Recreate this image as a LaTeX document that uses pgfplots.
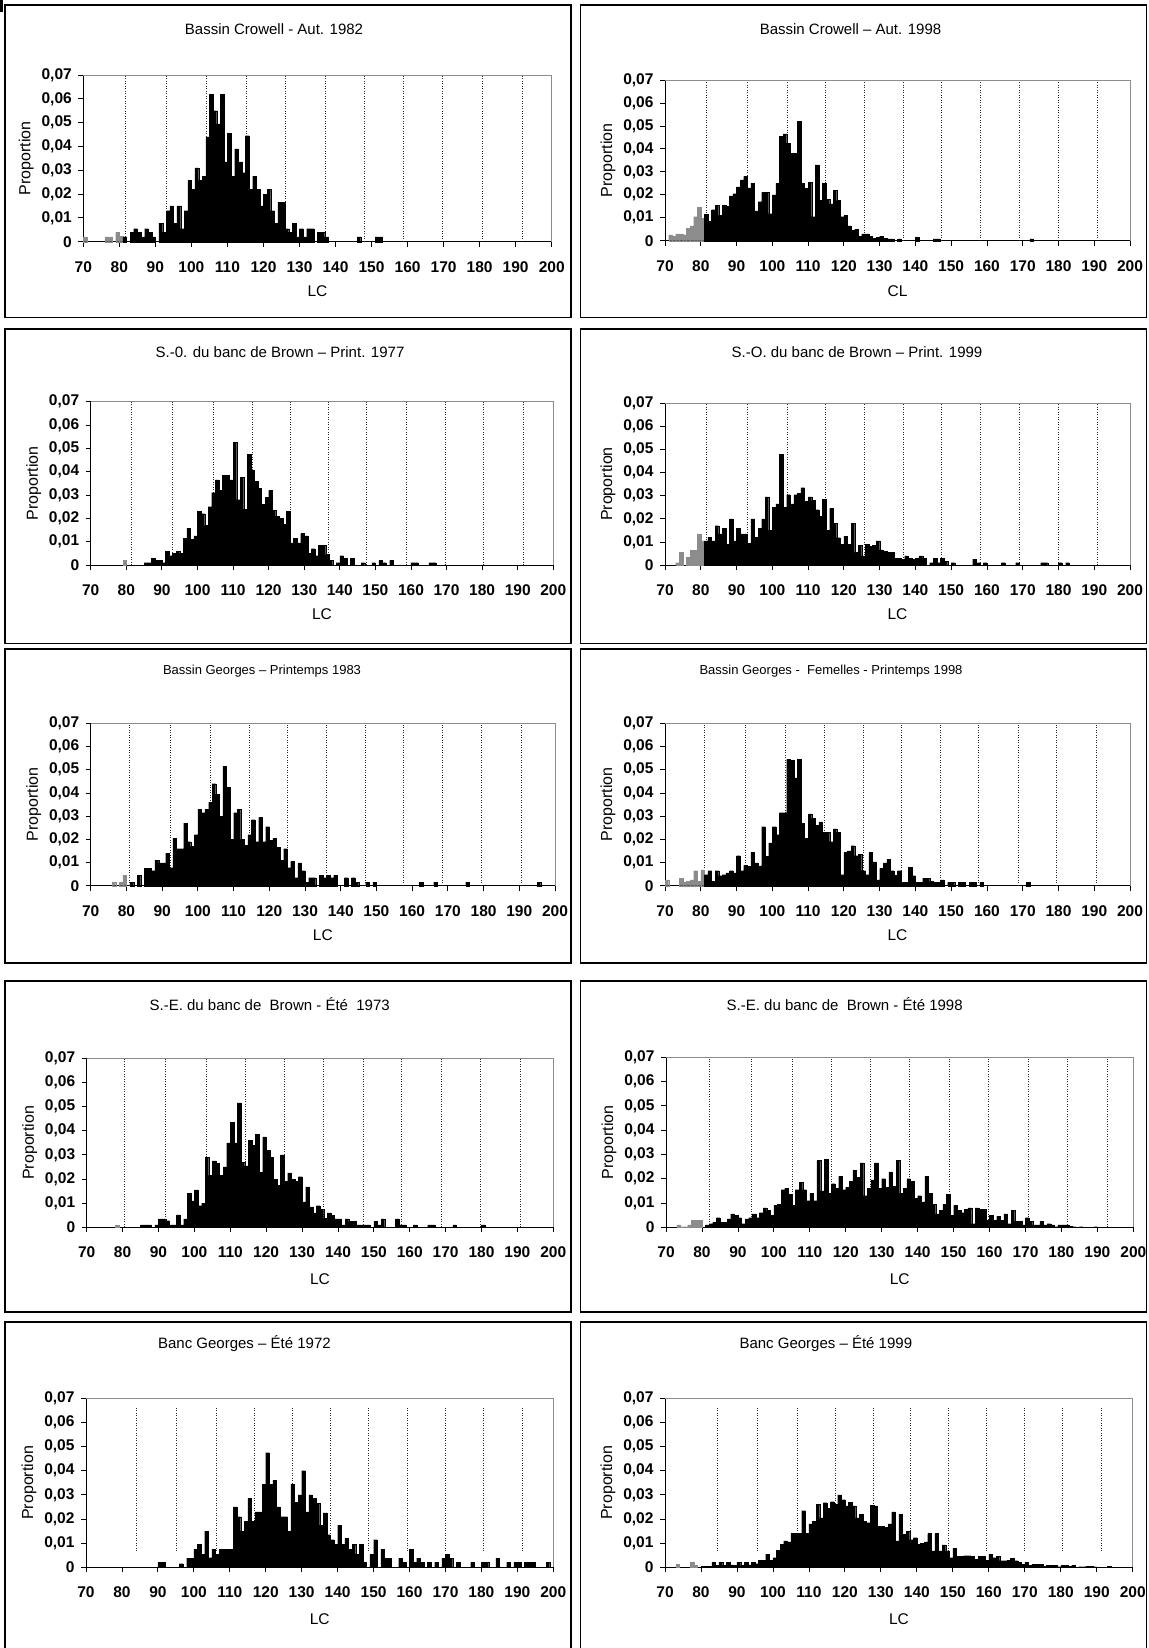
\documentclass[border=0pt]{standalone}
\usepackage{fontspec}
\setmainfont{Liberation Sans}
\usepackage{pgfplots}
\usepackage{pgfplotstable}
\pgfplotsset{compat=1.18}

% ---------- Panel 1: Bassin Crowell - Aut. 1982
\pgfplotstableread[row sep=\\]{lc p\\ 70 0.002\\ 76 0.002\\ 77 0.002\\ 79 0.0039\\ 80 0.0022\\}\PaG
\pgfplotstableread[row sep=\\]{lc p\\
81 0.002\\ 83 0.004\\ 84 0.0055\\ 85 0.004\\ 86 0.002\\ 87 0.0055\\ 88 0.004\\ 89 0.002\\
91 0.0078\\ 92 0.004\\ 93 0.013\\ 94 0.015\\ 95 0.0078\\ 96 0.015\\ 97 0.0055\\ 98 0.013\\ 99 0.0258\\ 100 0.022\\
101 0.031\\ 102 0.0258\\ 103 0.0275\\ 104 0.044\\ 105 0.062\\ 106 0.055\\ 107 0.0495\\ 108 0.062\\ 109 0.0335\\ 110 0.0455\\
111 0.0275\\ 112 0.039\\ 113 0.0335\\ 114 0.029\\ 115 0.0445\\ 116 0.022\\ 117 0.0275\\ 118 0.022\\ 119 0.015\\ 120 0.020\\
121 0.022\\ 122 0.013\\ 123 0.0078\\ 124 0.0165\\ 125 0.0165\\ 126 0.0055\\ 127 0.004\\ 128 0.0078\\ 129 0.002\\ 130 0.0055\\
131 0.002\\ 132 0.0055\\ 133 0.0055\\ 135 0.004\\ 136 0.004\\ 137 0.002\\ 146 0.002\\ 151 0.002\\ 152 0.002\\}\PaB

% ---------- Panel 2: Bassin Crowell - Aut. 1998
\pgfplotstableread[row sep=\\]{lc p\\ 71 0.0025\\ 72 0.002\\ 73 0.003\\ 74 0.003\\ 75 0.0025\\ 76 0.0055\\ 77 0.0065\\ 78 0.0105\\ 79 0.0145\\ 80 0.0098\\}\PbG
\pgfplotstableread[row sep=\\]{lc p\\
81 0.0115\\ 82 0.0085\\ 83 0.0135\\ 84 0.0155\\ 85 0.011\\ 86 0.0155\\ 87 0.015\\ 88 0.0195\\ 89 0.0205\\ 90 0.0235\\
91 0.0265\\ 92 0.028\\ 93 0.023\\ 94 0.025\\ 95 0.013\\ 96 0.017\\ 97 0.021\\ 98 0.021\\ 99 0.0118\\ 100 0.020\\
101 0.025\\ 102 0.0455\\ 103 0.0465\\ 104 0.0425\\ 105 0.038\\ 106 0.038\\ 107 0.052\\ 108 0.025\\ 109 0.0228\\ 110 0.0255\\
111 0.0105\\ 112 0.033\\ 113 0.0175\\ 114 0.025\\ 115 0.018\\ 116 0.016\\ 117 0.022\\ 118 0.0175\\ 119 0.0105\\ 120 0.011\\
121 0.0065\\ 122 0.0045\\ 123 0.005\\ 124 0.002\\ 125 0.003\\ 126 0.003\\ 127 0.002\\ 128 0.001\\ 129 0.0015\\ 130 0.002\\
131 0.001\\ 132 0.0008\\ 133 0.0008\\ 135 0.0008\\ 140 0.0015\\ 145 0.0008\\ 146 0.0008\\ 172 0.0008\\}\PbB

% ---------- Panel 3: S.-O. Brown 1977
\pgfplotstableread[row sep=\\]{lc p\\ 79 0.002\\}\PcG
\pgfplotstableread[row sep=\\]{lc p\\
85 0.001\\ 86 0.001\\ 87 0.003\\ 88 0.002\\ 89 0.002\\ 90 0.001\\
91 0.006\\ 92 0.004\\ 93 0.005\\ 94 0.006\\ 95 0.005\\ 96 0.0115\\ 97 0.0158\\ 98 0.011\\ 99 0.0125\\ 100 0.023\\
101 0.022\\ 102 0.017\\ 103 0.025\\ 104 0.031\\ 105 0.0365\\ 106 0.032\\ 107 0.0385\\ 108 0.0385\\ 109 0.0365\\ 110 0.0525\\
111 0.028\\ 112 0.0375\\ 113 0.024\\ 114 0.0475\\ 115 0.0405\\ 116 0.036\\ 117 0.033\\ 118 0.026\\ 119 0.029\\ 120 0.032\\
121 0.0235\\ 122 0.021\\ 123 0.020\\ 124 0.0175\\ 125 0.023\\ 126 0.0095\\ 127 0.0115\\ 128 0.0095\\ 129 0.0135\\ 130 0.0125\\
131 0.005\\ 132 0.007\\ 133 0.004\\ 134 0.0085\\ 135 0.0085\\ 136 0.0045\\ 137 0.002\\ 139 0.001\\ 140 0.004\\
141 0.003\\ 143 0.003\\ 146 0.001\\ 149 0.001\\ 151 0.002\\ 152 0.001\\ 154 0.002\\ 160 0.001\\ 161 0.001\\ 165 0.001\\ 166 0.001\\}\PcB

% ---------- Panel 4: S.-O. Brown 1999
\pgfplotstableread[row sep=\\]{lc p\\ 73 0.001\\ 74 0.0055\\ 76 0.0033\\ 77 0.0063\\ 78 0.0063\\ 79 0.0135\\ 80 0.0105\\}\PdG
\pgfplotstableread[row sep=\\]{lc p\\
81 0.0105\\ 82 0.012\\ 83 0.0105\\ 84 0.017\\ 85 0.0135\\ 86 0.016\\ 87 0.009\\ 88 0.020\\ 89 0.0105\\ 90 0.016\\
91 0.0135\\ 92 0.0135\\ 93 0.0095\\ 94 0.020\\ 95 0.012\\ 96 0.016\\ 97 0.020\\ 98 0.0295\\ 99 0.015\\ 100 0.025\\
101 0.0265\\ 102 0.048\\ 103 0.025\\ 104 0.0305\\ 105 0.0265\\ 106 0.0305\\ 107 0.031\\ 108 0.0335\\ 109 0.0275\\ 110 0.0295\\
111 0.028\\ 112 0.024\\ 113 0.021\\ 114 0.0285\\ 115 0.015\\ 116 0.0245\\ 117 0.018\\ 118 0.0118\\ 119 0.009\\ 120 0.0125\\
121 0.009\\ 122 0.018\\ 123 0.0055\\ 124 0.0085\\ 125 0.004\\ 126 0.009\\ 127 0.008\\ 128 0.0085\\ 129 0.0105\\ 130 0.0065\\
131 0.006\\ 132 0.0055\\ 133 0.0055\\ 134 0.003\\ 135 0.003\\ 136 0.0025\\ 137 0.004\\ 138 0.003\\ 139 0.0025\\ 140 0.003\\
141 0.004\\ 142 0.003\\ 144 0.001\\ 145 0.003\\ 146 0.001\\ 147 0.003\\ 148 0.0015\\ 150 0.001\\ 156 0.0025\\ 157 0.001\\
159 0.001\\ 164 0.001\\ 168 0.001\\ 175 0.001\\ 176 0.001\\ 180 0.001\\ 182 0.001\\}\PdB

% ---------- Panel 5: Bassin Georges 1983
\pgfplotstableread[row sep=\\]{lc p\\ 76 0.0015\\ 78 0.0015\\ 79 0.0045\\}\PeG
\pgfplotstableread[row sep=\\]{lc p\\
81 0.0015\\ 83 0.0045\\ 85 0.0075\\ 86 0.0075\\ 87 0.0065\\ 88 0.011\\ 89 0.0098\\ 90 0.0098\\
91 0.014\\ 92 0.0078\\ 93 0.0205\\ 94 0.016\\ 95 0.016\\ 96 0.027\\ 97 0.019\\ 98 0.017\\ 99 0.022\\ 100 0.033\\
101 0.0315\\ 102 0.033\\ 103 0.036\\ 104 0.044\\ 105 0.0395\\ 106 0.030\\ 107 0.0515\\ 108 0.0425\\ 109 0.020\\ 110 0.0315\\
111 0.033\\ 112 0.020\\ 113 0.0175\\ 114 0.022\\ 115 0.0285\\ 116 0.019\\ 117 0.0295\\ 118 0.019\\ 119 0.0255\\ 120 0.0195\\
121 0.0205\\ 122 0.0165\\ 123 0.011\\ 124 0.016\\ 125 0.0078\\ 126 0.0105\\ 127 0.0035\\ 128 0.0098\\ 129 0.0065\\ 130 0.0015\\
131 0.0035\\ 132 0.0035\\ 134 0.0045\\ 135 0.0035\\ 136 0.0045\\ 137 0.0035\\ 138 0.0045\\ 141 0.0035\\ 143 0.0035\\ 144 0.0015\\
147 0.0015\\ 149 0.0015\\ 162 0.0015\\ 166 0.0015\\ 175 0.0015\\ 195 0.0015\\}\PeB

% ---------- Panel 6: Bassin Georges Femelles 1998
\pgfplotstableread[row sep=\\]{lc p\\ 70 0.0025\\ 74 0.0033\\ 75 0.0015\\ 76 0.0018\\ 77 0.0025\\ 78 0.0065\\ 79 0.0018\\ 80 0.0068\\}\PfG
\pgfplotstableread[row sep=\\]{lc p\\
81 0.0048\\ 82 0.0065\\ 83 0.002\\ 84 0.0065\\ 85 0.0043\\ 86 0.0048\\ 87 0.0055\\ 88 0.0065\\ 89 0.0055\\ 90 0.013\\
91 0.0065\\ 92 0.0088\\ 93 0.0083\\ 94 0.0145\\ 95 0.0098\\ 96 0.0085\\ 97 0.0255\\ 98 0.0128\\ 99 0.0185\\ 100 0.0255\\
101 0.022\\ 102 0.0315\\ 103 0.0315\\ 104 0.0545\\ 105 0.054\\ 106 0.0465\\ 107 0.0545\\ 108 0.027\\ 109 0.0205\\ 110 0.031\\
111 0.029\\ 112 0.026\\ 113 0.0275\\ 114 0.023\\ 115 0.023\\ 116 0.019\\ 117 0.0245\\ 118 0.023\\ 119 0.0048\\ 120 0.0145\\
121 0.015\\ 122 0.0173\\ 123 0.013\\ 124 0.0135\\ 125 0.0065\\ 126 0.0048\\ 127 0.0143\\ 128 0.0103\\ 129 0.0025\\ 130 0.0075\\
131 0.0098\\ 132 0.0115\\ 133 0.0065\\ 134 0.0045\\ 135 0.0065\\ 136 0.0015\\ 137 0.0015\\ 138 0.008\\ 139 0.0043\\ 140 0.0015\\
141 0.0015\\ 142 0.0033\\ 143 0.0033\\ 144 0.0018\\ 145 0.0015\\ 146 0.0015\\ 147 0.0025\\ 149 0.0015\\ 150 0.0015\\ 152 0.0015\\
153 0.0015\\ 155 0.0015\\ 156 0.0015\\ 158 0.0015\\ 171 0.0015\\}\PfB

% ---------- Panel 7: S.-E. Brown 1973
\pgfplotstableread[row sep=\\]{lc p\\ 78 0.001\\}\PgG
\pgfplotstableread[row sep=\\]{lc p\\
85 0.001\\ 86 0.001\\ 87 0.001\\ 89 0.001\\ 90 0.0035\\ 91 0.0035\\ 92 0.0028\\ 93 0.001\\ 94 0.001\\ 95 0.0052\\
96 0.001\\ 97 0.0035\\ 98 0.014\\ 99 0.011\\ 100 0.0155\\ 101 0.009\\ 102 0.010\\ 103 0.029\\ 104 0.0215\\ 105 0.0275\\
106 0.0265\\ 107 0.0215\\ 108 0.025\\ 109 0.035\\ 110 0.0435\\ 111 0.035\\ 112 0.0515\\ 113 0.027\\ 114 0.0255\\ 115 0.036\\
116 0.034\\ 117 0.0385\\ 118 0.0228\\ 119 0.0375\\ 120 0.032\\ 121 0.029\\ 122 0.020\\ 123 0.0175\\ 124 0.030\\ 125 0.019\\
126 0.0225\\ 127 0.020\\ 128 0.019\\ 129 0.021\\ 130 0.0105\\ 131 0.0168\\ 132 0.0085\\ 133 0.006\\ 134 0.009\\ 135 0.0075\\
136 0.0038\\ 137 0.006\\ 138 0.005\\ 139 0.0035\\ 140 0.0035\\ 141 0.001\\ 142 0.0035\\ 143 0.0025\\ 144 0.0025\\ 145 0.001\\
146 0.001\\ 147 0.001\\ 148 0.001\\ 150 0.0025\\ 151 0.001\\ 152 0.0035\\ 156 0.0035\\ 157 0.001\\ 158 0.001\\ 161 0.001\\
165 0.001\\ 166 0.001\\ 172 0.001\\ 180 0.001\\}\PgB

% ---------- Panel 8: S.-E. Brown 1998
\pgfplotstableread[row sep=\\]{lc p\\ 73 0.001\\ 74 0.0003\\ 75 0.0003\\ 76 0.001\\ 77 0.003\\ 78 0.0028\\ 79 0.003\\}\PhG
\pgfplotstableread[row sep=\\]{lc p\\
81 0.001\\ 82 0.0015\\ 83 0.002\\ 84 0.004\\ 85 0.002\\ 86 0.002\\ 87 0.0035\\ 88 0.0055\\ 89 0.005\\ 90 0.004\\
91 0.0015\\ 92 0.0035\\ 93 0.004\\ 94 0.0055\\ 95 0.004\\ 96 0.006\\ 97 0.008\\ 98 0.007\\ 99 0.005\\ 100 0.009\\
101 0.0095\\ 102 0.0155\\ 103 0.016\\ 104 0.0135\\ 105 0.009\\ 106 0.0155\\ 107 0.0185\\ 108 0.0155\\ 109 0.011\\ 110 0.014\\
111 0.011\\ 112 0.0275\\ 113 0.015\\ 114 0.028\\ 115 0.014\\ 116 0.018\\ 117 0.016\\ 118 0.021\\ 119 0.0155\\ 120 0.0165\\
121 0.019\\ 122 0.0235\\ 123 0.0205\\ 124 0.0265\\ 125 0.013\\ 126 0.016\\ 127 0.0195\\ 128 0.0265\\ 129 0.016\\ 130 0.020\\
131 0.0165\\ 132 0.0228\\ 133 0.0168\\ 134 0.0275\\ 135 0.014\\ 136 0.016\\ 137 0.020\\ 138 0.019\\ 139 0.012\\ 140 0.013\\
141 0.0105\\ 142 0.021\\ 143 0.014\\ 144 0.0095\\ 145 0.0055\\ 146 0.007\\ 147 0.0095\\ 148 0.0135\\ 149 0.005\\ 150 0.009\\
151 0.007\\ 152 0.006\\ 153 0.0075\\ 154 0.008\\ 155 0.0015\\ 156 0.008\\ 157 0.0075\\ 158 0.0075\\ 159 0.0028\\ 160 0.005\\
161 0.003\\ 162 0.0045\\ 163 0.003\\ 164 0.0055\\ 165 0.0015\\ 166 0.007\\ 167 0.0025\\ 168 0.0025\\ 169 0.001\\ 170 0.004\\
171 0.0025\\ 172 0.001\\ 173 0.001\\ 174 0.0025\\ 175 0.001\\ 176 0.0015\\ 177 0.001\\ 178 0.0003\\ 179 0.001\\ 180 0.001\\
181 0.001\\ 182 0.0005\\ 183 0.0003\\ 185 0.0003\\ 189 0.0003\\}\PhB

% ---------- Panel 9: Banc Georges 1972
\pgfplotstableread[row sep=\\]{lc p\\
90 0.002\\ 91 0.002\\ 96 0.0015\\ 98 0.0038\\ 99 0.0038\\ 100 0.0075\\ 101 0.0095\\ 102 0.0055\\ 103 0.015\\ 104 0.004\\
105 0.0075\\ 106 0.0055\\ 107 0.0075\\ 108 0.0075\\ 109 0.0075\\ 110 0.0075\\ 111 0.025\\ 112 0.021\\ 113 0.015\\ 114 0.019\\
115 0.0285\\ 116 0.019\\ 117 0.023\\ 118 0.023\\ 119 0.0345\\ 120 0.0475\\ 121 0.0345\\ 122 0.036\\ 123 0.025\\ 124 0.021\\
125 0.021\\ 126 0.015\\ 127 0.0345\\ 128 0.027\\ 129 0.030\\ 130 0.040\\ 131 0.023\\ 132 0.030\\ 133 0.0285\\ 134 0.0265\\
135 0.0175\\ 136 0.0225\\ 137 0.0135\\ 138 0.0115\\ 139 0.0095\\ 140 0.0175\\ 141 0.0095\\ 142 0.012\\ 143 0.0075\\ 144 0.0095\\
145 0.0055\\ 146 0.0095\\ 147 0.002\\ 149 0.0055\\ 150 0.0115\\ 152 0.0075\\ 153 0.0038\\ 154 0.0038\\ 157 0.0038\\ 158 0.002\\
160 0.0075\\ 161 0.002\\ 162 0.0038\\ 163 0.002\\ 165 0.002\\ 167 0.002\\ 169 0.0038\\ 170 0.0055\\ 171 0.0038\\ 173 0.002\\
177 0.002\\ 180 0.002\\ 181 0.002\\ 184 0.0038\\ 187 0.002\\ 189 0.002\\ 190 0.002\\ 192 0.002\\ 193 0.002\\ 194 0.002\\ 198 0.002\\}\PiB

% ---------- Panel 10: Banc Georges 1999
\pgfplotstableread[row sep=\\]{lc p\\ 73 0.0013\\ 77 0.002\\ 78 0.0008\\}\PjG
\pgfplotstableread[row sep=\\]{lc p\\
80 0.0005\\ 81 0.0005\\ 82 0.0005\\ 83 0.002\\ 84 0.0008\\ 85 0.002\\ 86 0.0008\\ 87 0.002\\ 88 0.001\\ 89 0.0008\\ 90 0.002\\
91 0.0008\\ 92 0.002\\ 93 0.001\\ 94 0.002\\ 95 0.0015\\ 96 0.003\\ 97 0.003\\ 98 0.0055\\ 99 0.003\\ 100 0.004\\
101 0.007\\ 102 0.0095\\ 103 0.011\\ 104 0.0105\\ 105 0.014\\ 106 0.014\\ 107 0.014\\ 108 0.0235\\ 109 0.014\\ 110 0.018\\
111 0.019\\ 112 0.026\\ 113 0.0205\\ 114 0.0268\\ 115 0.0245\\ 116 0.0272\\ 117 0.026\\ 118 0.030\\ 119 0.028\\ 120 0.0255\\
121 0.027\\ 122 0.0255\\ 123 0.0205\\ 124 0.022\\ 125 0.019\\ 126 0.0185\\ 127 0.0258\\ 128 0.0255\\ 129 0.017\\ 130 0.017\\
131 0.0165\\ 132 0.018\\ 133 0.023\\ 134 0.011\\ 135 0.022\\ 136 0.0138\\ 137 0.015\\ 138 0.0115\\ 139 0.0123\\ 140 0.0095\\
141 0.010\\ 142 0.0105\\ 143 0.014\\ 144 0.0068\\ 145 0.014\\ 146 0.0068\\ 147 0.0093\\ 148 0.0068\\ 149 0.004\\ 150 0.0078\\
151 0.0045\\ 152 0.0045\\ 153 0.0048\\ 154 0.0048\\ 155 0.0045\\ 156 0.0033\\ 157 0.0045\\ 158 0.0045\\ 159 0.003\\ 160 0.0055\\
161 0.004\\ 162 0.0045\\ 163 0.0028\\ 164 0.0028\\ 165 0.003\\ 166 0.0038\\ 167 0.0028\\ 168 0.002\\ 169 0.0013\\ 170 0.002\\
171 0.0008\\ 172 0.0013\\ 173 0.0013\\ 174 0.0013\\ 175 0.0005\\ 176 0.0008\\ 177 0.0008\\ 178 0.0008\\ 179 0.0003\\ 180 0.0008\\
181 0.0008\\ 182 0.0005\\ 183 0.0008\\ 185 0.0003\\ 186 0.0003\\ 187 0.0005\\ 188 0.0005\\ 189 0.0003\\ 193 0.0005\\}\PjB

\pgfplotsset{
  hist/.style={
    scale only axis, anchor=south west, clip=false,
    xmin=70, xmax=200, ymin=0, ymax=0.07,
    axis x line*=bottom, axis y line*=left,
    axis line style={black, line width=1pt},
    tick align=outside, major tick length=5pt,
    major tick style={black, line width=0.8pt},
    scaled y ticks=false, scaled x ticks=false,
    xtick={70,80,90,100,110,120,130,140,150,160,170,180,190,200},
    xticklabels={70,80,90,100,110,120,130,140,150,160,170,180,190,200},
    ytick={0,0.01,0.02,0.03,0.04,0.05,0.06,0.07},
    yticklabels={0,{0,01},{0,02},{0,03},{0,04},{0,05},{0,06},{0,07}},
    ticklabel style={font=\fontsize{15.5}{17}\selectfont\bfseries},
    xticklabel style={yshift=-11pt},
    yticklabel style={xshift=-3pt},
    unbounded coords=jump,
    after end axis/.code={\draw[black!45, line width=1pt] (rel axis cs:0,1) -- (rel axis cs:1,1) -- (rel axis cs:1,0);},
  },
  grayb/.style={ybar, bar width=1, bar shift=0pt, fill=black!45, draw=black!45, line width=0.1pt},
  blackb/.style={ybar, bar width=1, bar shift=0pt, fill=black, draw=black, line width=0.1pt},
  dotl/.style={black!85, line width=0.8pt, dash pattern=on 0.9pt off 1.6pt, no markers},
}
\tikzset{
  tfont/.style={font=\fontsize{15}{18}\selectfont, inner sep=0pt},
  tsfont/.style={font=\fontsize{13}{16}\selectfont, inner sep=0pt},
  pfont/.style={font=\fontsize{16}{18}\selectfont, inner sep=0pt, rotate=90},
  lfont/.style={font=\fontsize{15.5}{18}\selectfont, inner sep=0pt},
}

\begin{document}
\begin{tikzpicture}
\path[use as bounding box] (0,0) rectangle (1148pt,-1648pt);
\fill (0,0) rectangle (3pt,-12pt);
% panel frames
\draw[line width=1.2pt] (5pt,-5pt) rectangle (571pt,-317.5pt);
\draw[line width=1.2pt] (580.7pt,-5pt) rectangle (1146.5pt,-317.5pt);
\draw[line width=1.2pt] (5pt,-329pt) rectangle (571pt,-643.5pt);
\draw[line width=1.2pt] (580.7pt,-329pt) rectangle (1146.5pt,-643.5pt);
\draw[line width=1.2pt] (5pt,-649pt) rectangle (571pt,-963pt);
\draw[line width=1.2pt] (580.7pt,-649pt) rectangle (1146.5pt,-963pt);
\draw[line width=1.2pt] (5pt,-981pt) rectangle (571pt,-1312pt);
\draw[line width=1.2pt] (580.7pt,-981pt) rectangle (1146.5pt,-1312pt);
\draw[line width=1.2pt] (5pt,-1322pt) rectangle (571pt,-1670pt);
\draw[line width=1.2pt] (580.7pt,-1322pt) rectangle (1146.5pt,-1670pt);
% heavier right edge of left frames
\draw[line width=2.2pt] (571pt,-5pt) -- (571pt,-317.5pt);
\draw[line width=2.2pt] (571pt,-329pt) -- (571pt,-643.5pt);
\draw[line width=2.2pt] (571pt,-649pt) -- (571pt,-963pt);
\draw[line width=2.2pt] (571pt,-981pt) -- (571pt,-1312pt);
\draw[line width=2.2pt] (571pt,-1322pt) -- (571pt,-1670pt);

% ===== Panel 1
\begin{axis}[hist, at={(83.3pt,-241.7pt)}, width=468.4pt, height=166.7pt]
\addplot[dotl] coordinates {(81.7,0) (81.7,0.07) (81.7,nan) (93.2,0) (93.2,0.07) (93.2,nan) (104.3,0) (104.3,0.07) (104.3,nan) (115.3,0) (115.3,0.07) (115.3,nan) (126.2,0) (126.2,0.07) (126.2,nan) (137.2,0) (137.2,0.07) (137.2,nan) (147.9,0) (147.9,0.07) (147.9,nan) (158.8,0) (158.8,0.07) (158.8,nan) (169.7,0) (169.7,0.07) (169.7,nan) (180.8,0) (180.8,0.07) (180.8,nan) (191.9,0) (191.9,0.07)};
\addplot[grayb] table[x expr=\thisrow{lc}+0.5, y=p] {\PaG};
\addplot[blackb] table[x expr=\thisrow{lc}+0.5, y=p] {\PaB};
\end{axis}
\node[tfont] at (274pt,-29.5pt) {Bassin Crowell - Aut. 1982};
\node[pfont] at (26.3pt,-158.4pt) {Proportion};
\node[lfont] at (317.5pt,-291pt) {LC};

% ===== Panel 2
\begin{axis}[hist, at={(665pt,-240.7pt)}, width=465pt, height=160.7pt]
\addplot[dotl] coordinates {(81.6,0) (81.6,0.07) (81.6,nan) (93.0,0) (93.0,0.07) (93.0,nan) (104.1,0) (104.1,0.07) (104.1,nan) (114.9,0) (114.9,0.07) (114.9,nan) (125.8,0) (125.8,0.07) (125.8,nan) (136.6,0) (136.6,0.07) (136.6,nan) (147.3,0) (147.3,0.07) (147.3,nan) (158.1,0) (158.1,0.07) (158.1,nan) (169.1,0) (169.1,0.07) (169.1,nan) (180.0,0) (180.0,0.07) (180.0,nan) (190.9,0) (190.9,0.07)};
\addplot[grayb] table[x expr=\thisrow{lc}+0.5, y=p] {\PbG};
\addplot[blackb] table[x expr=\thisrow{lc}+0.5, y=p] {\PbB};
\end{axis}
\node[tfont] at (850.5pt,-29.5pt) {Bassin Crowell – Aut. 1998};
\node[pfont] at (608pt,-160.4pt) {Proportion};
\node[lfont] at (897.5pt,-290.7pt) {CL};

% ===== Panel 3
\begin{axis}[hist, at={(90.7pt,-565pt)}, width=462.6pt, height=163.3pt]
\addplot[dotl] coordinates {(81.3,0) (81.3,0.07) (81.3,nan) (93.0,0) (93.0,0.07) (93.0,nan) (104.4,0) (104.4,0.07) (104.4,nan) (115.3,0) (115.3,0.07) (115.3,nan) (126.2,0) (126.2,0.07) (126.2,nan) (136.9,0) (136.9,0.07) (136.9,nan) (147.6,0) (147.6,0.07) (147.6,nan) (158.6,0) (158.6,0.07) (158.6,nan) (169.6,0) (169.6,0.07) (169.6,nan) (180.4,0) (180.4,0.07) (180.4,nan) (191.6,0) (191.6,0.07)};
\addplot[grayb] table[x expr=\thisrow{lc}+0.5, y=p] {\PcG};
\addplot[blackb] table[x expr=\thisrow{lc}+0.5, y=p] {\PcB};
\end{axis}
\node[tfont] at (280pt,-352pt) {S.-0. du banc de Brown – Print. 1977};
\node[pfont] at (33.7pt,-483.4pt) {Proportion};
\node[lfont] at (322pt,-614.5pt) {LC};

% ===== Panel 4
\begin{axis}[hist, at={(665pt,-565pt)}, width=465pt, height=161.7pt]
\addplot[dotl] coordinates {(81.6,0) (81.6,0.07) (81.6,nan) (93.0,0) (93.0,0.07) (93.0,nan) (104.1,0) (104.1,0.07) (104.1,nan) (114.9,0) (114.9,0.07) (114.9,nan) (125.8,0) (125.8,0.07) (125.8,nan) (136.6,0) (136.6,0.07) (136.6,nan) (147.3,0) (147.3,0.07) (147.3,nan) (158.1,0) (158.1,0.07) (158.1,nan) (169.1,0) (169.1,0.07) (169.1,nan) (180.0,0) (180.0,0.07) (180.0,nan) (190.9,0) (190.9,0.07)};
\addplot[grayb] table[x expr=\thisrow{lc}+0.5, y=p] {\PdG};
\addplot[blackb] table[x expr=\thisrow{lc}+0.5, y=p] {\PdB};
\end{axis}
\node[tfont] at (857pt,-352pt) {S.-O. du banc de Brown – Print. 1999};
\node[pfont] at (608pt,-484pt) {Proportion};
\node[lfont] at (897.5pt,-614.5pt) {LC};

% ===== Panel 5
\begin{axis}[hist, at={(90.7pt,-885.7pt)}, width=464.3pt, height=162.4pt]
\addplot[dotl] coordinates {(80.7,0) (80.7,0.07) (80.7,nan) (92.2,0) (92.2,0.07) (92.2,nan) (103.6,0) (103.6,0.07) (103.6,nan) (114.4,0) (114.4,0.07) (114.4,nan) (125.2,0) (125.2,0.07) (125.2,nan) (136.1,0) (136.1,0.07) (136.1,nan) (146.9,0) (146.9,0.07) (146.9,nan) (157.6,0) (157.6,0.07) (157.6,nan) (168.5,0) (168.5,0.07) (168.5,nan) (179.5,0) (179.5,0.07) (179.5,nan) (190.7,0) (190.7,0.07)};
\addplot[grayb] table[x expr=\thisrow{lc}+0.5, y=p] {\PeG};
\addplot[blackb] table[x expr=\thisrow{lc}+0.5, y=p] {\PeB};
\end{axis}
\node[tsfont] at (262pt,-670.7pt) {Bassin Georges – Printemps 1983};
\node[pfont] at (33.7pt,-804.5pt) {Proportion};
\node[lfont] at (322.9pt,-935.5pt) {LC};

% ===== Panel 6
\begin{axis}[hist, at={(665pt,-885.7pt)}, width=465pt, height=162.4pt]
\addplot[dotl] coordinates {(81.0,0) (81.0,0.07) (81.0,nan) (92.4,0) (92.4,0.07) (92.4,nan) (103.7,0) (103.7,0.07) (103.7,nan) (114.5,0) (114.5,0.07) (114.5,nan) (125.4,0) (125.4,0.07) (125.4,nan) (136.2,0) (136.2,0.07) (136.2,nan) (147.0,0) (147.0,0.07) (147.0,nan) (157.7,0) (157.7,0.07) (157.7,nan) (168.7,0) (168.7,0.07) (168.7,nan) (179.5,0) (179.5,0.07) (179.5,nan) (190.6,0) (190.6,0.07)};
\addplot[grayb] table[x expr=\thisrow{lc}+0.5, y=p] {\PfG};
\addplot[blackb] table[x expr=\thisrow{lc}+0.5, y=p] {\PfB};
\end{axis}
\node[tsfont] at (831pt,-670.7pt) {Bassin Georges -\ \ Femelles - Printemps 1998};
\node[pfont] at (608pt,-804.5pt) {Proportion};
\node[lfont] at (897.5pt,-935.5pt) {LC};

% ===== Panel 7
\begin{axis}[hist, at={(86.7pt,-1227.3pt)}, width=466.6pt, height=169pt]
\addplot[dotl] coordinates {(80.5,0) (80.5,0.07) (80.5,nan) (92.0,0) (92.0,0.07) (92.0,nan) (103.4,0) (103.4,0.07) (103.4,nan) (114.3,0) (114.3,0.07) (114.3,nan) (125.1,0) (125.1,0.07) (125.1,nan) (135.9,0) (135.9,0.07) (135.9,nan) (147.1,0) (147.1,0.07) (147.1,nan) (157.6,0) (157.6,0.07) (157.6,nan) (168.7,0) (168.7,0.07) (168.7,nan) (179.6,0) (179.6,0.07) (179.6,nan) (190.8,0) (190.8,0.07)};
\addplot[grayb] table[x expr=\thisrow{lc}+0.5, y=p] {\PgG};
\addplot[blackb] table[x expr=\thisrow{lc}+0.5, y=p] {\PgB};
\end{axis}
\node[tfont] at (269.7pt,-1004pt) {S.-E. du banc de\ \ Brown - Été\ \ 1973};
\node[pfont] at (29.7pt,-1142.8pt) {Proportion};
\node[lfont] at (320pt,-1279pt) {LC};

% ===== Panel 8
\begin{axis}[hist, at={(666pt,-1227.3pt)}, width=467.3pt, height=170pt]
\addplot[dotl] coordinates {(82.2,0) (82.2,0.07) (82.2,nan) (93.7,0) (93.7,0.07) (93.7,nan) (105.2,0) (105.2,0.07) (105.2,nan) (115.9,0) (115.9,0.07) (115.9,nan) (126.8,0) (126.8,0.07) (126.8,nan) (137.8,0) (137.8,0.07) (137.8,nan) (148.7,0) (148.7,0.07) (148.7,nan) (159.6,0) (159.6,0.07) (159.6,nan) (170.7,0) (170.7,0.07) (170.7,nan) (181.6,0) (181.6,0.07) (181.6,nan) (192.8,0) (192.8,0.07)};
\addplot[grayb] table[x expr=\thisrow{lc}+0.5, y=p] {\PhG};
\addplot[blackb] table[x expr=\thisrow{lc}+0.5, y=p] {\PhB};
\end{axis}
\node[tfont] at (844.7pt,-1004pt) {S.-E. du banc de\ \ Brown - Été 1998};
\node[pfont] at (609pt,-1142.3pt) {Proportion};
\node[lfont] at (899.7pt,-1279pt) {LC};

% ===== Panel 9
\begin{axis}[hist, at={(86pt,-1567.3pt)}, width=467.3pt, height=169pt]
\addplot[dotl] coordinates {(84.1,0.0068) (84.1,0.0668) (84.1,nan) (95.2,0.0068) (95.2,0.0668) (95.2,nan) (106.4,0.0068) (106.4,0.0668) (106.4,nan) (116.9,0.0068) (116.9,0.0668) (116.9,nan) (127.5,0.0068) (127.5,0.0668) (127.5,nan) (138.1,0.0068) (138.1,0.0668) (138.1,nan) (148.7,0.0068) (148.7,0.0668) (148.7,nan) (159.3,0.0068) (159.3,0.0668) (159.3,nan) (170.0,0.0068) (170.0,0.0668) (170.0,nan) (180.6,0.0068) (180.6,0.0668) (180.6,nan) (191.4,0.0068) (191.4,0.0668)};
\addplot[blackb] table[x expr=\thisrow{lc}+0.5, y=p] {\PiB};
\end{axis}
\node[tfont] at (244.4pt,-1343.5pt) {Banc Georges – Été 1972};
\node[pfont] at (29pt,-1482.8pt) {Proportion};
\node[lfont] at (319.7pt,-1619pt) {LC};

% ===== Panel 10
\begin{axis}[hist, at={(665pt,-1567.3pt)}, width=467.7pt, height=169pt]
\addplot[dotl] coordinates {(84.7,0.0068) (84.7,0.0668) (84.7,nan) (95.8,0.0068) (95.8,0.0668) (95.8,nan) (106.8,0.0068) (106.8,0.0668) (106.8,nan) (117.4,0.0068) (117.4,0.0668) (117.4,nan) (127.9,0.0068) (127.9,0.0668) (127.9,nan) (138.3,0.0068) (138.3,0.0668) (138.3,nan) (148.9,0.0068) (148.9,0.0668) (148.9,nan) (159.2,0.0068) (159.2,0.0668) (159.2,nan) (169.9,0.0068) (169.9,0.0668) (169.9,nan) (180.5,0.0068) (180.5,0.0668) (180.5,nan) (191.4,0.0068) (191.4,0.0668)};
\addplot[grayb] table[x expr=\thisrow{lc}+0.5, y=p] {\PjG};
\addplot[blackb] table[x expr=\thisrow{lc}+0.5, y=p] {\PjB};
\end{axis}
\node[tfont] at (825.8pt,-1343.5pt) {Banc Georges – Été 1999};
\node[pfont] at (608pt,-1482.8pt) {Proportion};
\node[lfont] at (898.9pt,-1619pt) {LC};
\end{tikzpicture}
\end{document}
